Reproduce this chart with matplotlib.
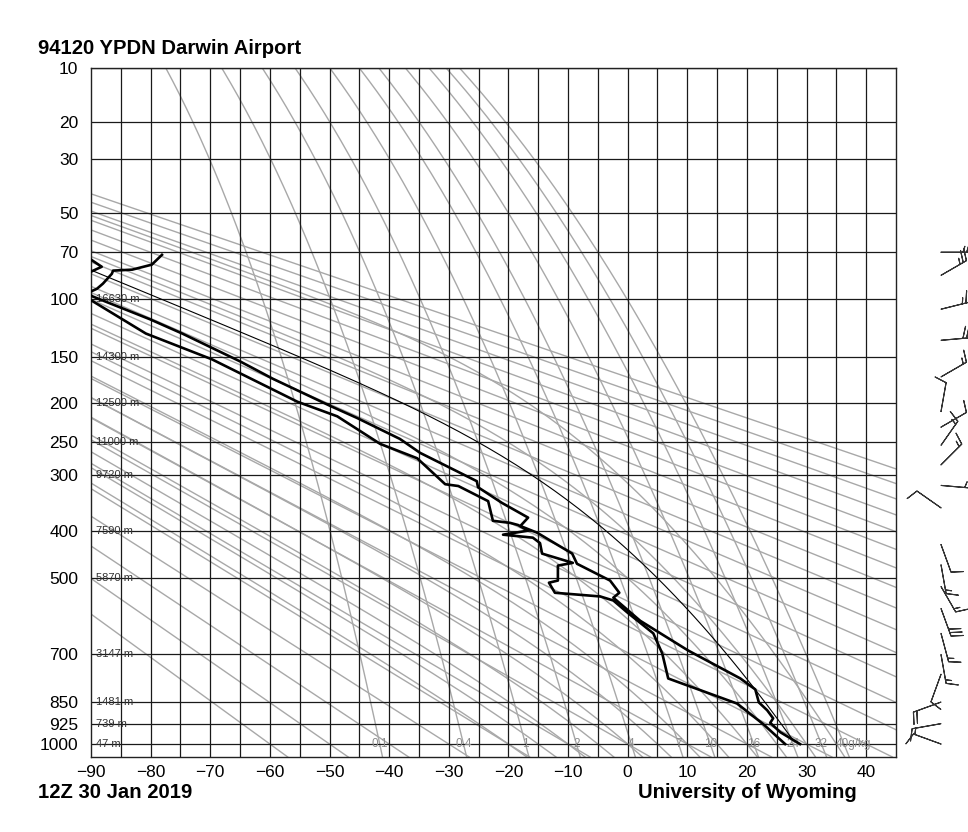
import numpy as np
import matplotlib.pyplot as plt

plt.rcParams['font.family'] = ['Liberation Sans', 'DejaVu Sans']

KAPPA = 0.286

# sounding: temperature (hPa, degC)
temp_p = [1000, 956, 922, 906, 878, 851, 808, 773, 688, 606, 547, 535, 506, 468,
          446, 403, 390, 374, 347, 320, 310, 266, 246, 218, 203, 172, 154, 128,
          116, 98.5, 96, 93, 89.5, 83, 81, 80.4, 77.3, 71.5]
temp_c = [28.9, 25.6, 23.9, 24.4, 23.4, 22.0, 21.4, 18.9, 10.1, 2.1, -2.4, -1.4, -2.95, -8.5,
          -9.3, -15.2, -18.0, -16.7, -21.1, -25.1, -25.3, -34.8, -38.2, -45.4, -49.9, -59.5, -65.0, -74.7,
          -80.1, -89.7, -90.6, -89.0, -88.0, -86.5, -86.3, -83.1, -79.8, -78.1]

# dewpoint (hPa, degC)
dew_p = [1000, 926, 855, 773, 697, 640, 585, 554, 544, 535, 511, 506, 472, 466,
         446, 424, 413, 407, 399, 388, 384, 380, 344, 318, 315, 274, 253, 216,
         198, 152, 128, 102, 95, 85, 82, 78.6, 73.8, 71.5]
dew_c = [26.4, 22.7, 18.35, 6.8, 5.8, 4.3, 0.0, -2.4, -4.6, -12.2, -13.2, -11.7, -11.7, -9.2,
         -14.35, -14.7, -15.9, -20.9, -16.7, -18.4, -19.7, -22.6, -23.4, -28.4, -30.6, -35.3, -41.5, -48.7,
         -55.4, -69.7, -80.8, -89.7, -93.0, -92.0, -90.2, -88.2, -90.2, -93.0]

# lifted parcel start (hPa, degC, dewpoint degC)
parcel_p0, parcel_t0, parcel_td0 = 1000, 28.9, 28.0

# winds (hPa, direction deg, speed kt)
wind_p = [70, 84, 108, 134, 170, 210, 230, 255, 284, 317, 356, 427, 470, 520,
          574, 640, 700, 760, 850, 925, 1000]
wind_dir = [90, 60, 76, 85, 60, 10, 60, 35, 45, 95, 305, 160, 170, 150,
            160, 165, 170, 200, 250, 260, 290]
wind_kt = [25, 25, 25, 30, 15, 10, 10, 15, 15, 5, 10, 10, 15, 15,
           30, 15, 15, 10, 20, 15, 10]

# pressure levels and standard heights
p_levels = [10, 20, 30, 50, 70, 100, 150, 200, 250, 300, 400, 500, 700, 850, 925, 1000]
height_p = [100, 150, 200, 250, 300, 400, 500, 700, 850, 925, 1000]
height_m = [16630, 14300, 12500, 11000, 9720, 7590, 5870, 3147, 1481, 739, 47]

# diagram background lines
theta_c = list(range(-60, 181, 10))          # dry adiabats, potential temp degC
theta_w = list(range(-20, 36, 5))            # moist adiabats, degC at 1000 hPa
mix_ratio = [0.1, 0.4, 1, 2, 4, 7, 10, 16, 24, 32, 40]
mix_labels = ['0.1', '0.4', '1', '2', '4', '7', '10', '16', '24', '32', '40g/kg']


def sat_vp(tc):
    return 6.112 * np.exp(17.67 * tc / (tc + 243.5))


def dtdp(p, tk):
    e = sat_vp(tk - 273.15)
    rs = 0.622 * e / (p - e)
    return (287.04 * tk + 2.501e6 * rs) / (
        p * (1005.7 + 2.501e6 ** 2 * rs * 0.622 / (287.04 * tk ** 2)))


def moist_adiabat(t0, p0, p_to):
    tk = t0 + 273.15
    p = p0
    out = []
    for pt in p_to:
        n = max(1, int(abs(pt - p) / 2) + 1)
        h = (pt - p) / n
        for _ in range(n):
            k1 = dtdp(p, tk)
            k2 = dtdp(p + h / 2, tk + h / 2 * k1)
            k3 = dtdp(p + h / 2, tk + h / 2 * k2)
            k4 = dtdp(p + h, tk + h * k3)
            tk += h / 6 * (k1 + 2 * k2 + 2 * k3 + k4)
            p += h
        out.append(tk - 273.15)
    return np.array(out)


def dewpt_from_w(w, p):
    e = w * p / (622.0 + w)
    a = np.log(e / 6.112)
    return 243.5 * a / (17.67 - a)


def pk_scale(axis):
    axis.set_yscale('function', functions=(lambda p: np.abs(p) ** KAPPA,
                                           lambda y: np.abs(y) ** (1 / KAPPA)))
    axis.set_ylim(1050, 10)


fig = plt.figure(figsize=(9.68, 8.32), dpi=100)
ax = fig.add_axes([91 / 968, 1 - 757 / 832, 805 / 968, 689 / 832])
pk_scale(ax)
ax.set_xlim(-90, 45)

gray = '#a8a8a8'
p_grid = np.geomspace(1050, 10, 300)

# dry adiabats
for th in theta_c:
    t = (th + 273.15) * (p_grid / 1000.0) ** KAPPA - 273.15
    ax.plot(t, p_grid, color=gray, lw=1.0, zorder=1)

# moist adiabats
p_up = np.geomspace(1000, 10, 200)
for tw in theta_w:
    t_up = moist_adiabat(tw, 1000, p_up)
    t_dn = moist_adiabat(tw, 1000, [1050])
    ax.plot(np.r_[t_dn, tw, t_up[1:]], np.r_[1050, 1000, p_up[1:]],
            color=gray, lw=1.0, zorder=1)

# mixing ratio lines
for w, lab in zip(mix_ratio, mix_labels):
    ax.plot(dewpt_from_w(w, p_grid), p_grid, color=gray, lw=1.0, zorder=1)
    x0 = dewpt_from_w(w, 1000.0)
    if lab.endswith('g/kg'):
        ax.text(x0 - 1.4, 1000, lab, color='#8c8c8c', fontsize=8.5,
                ha='left', va='center', zorder=3)
    else:
        ax.text(x0, 1000, lab, color='#8c8c8c', fontsize=8.5,
                ha='center', va='center', zorder=3)

# isotherms and isobars
for t in range(-85, 45, 5):
    ax.axvline(t, color='#1a1a1a', lw=0.9, zorder=2)
for p in p_levels:
    ax.axhline(p, color='#1a1a1a', lw=0.9, zorder=2)

# height labels
for p, h in zip(height_p, height_m):
    ax.text(-89.2, p, f'{h} m', fontsize=8, color='#333333',
            ha='left', va='center', zorder=4)

# parcel path
t0, td0 = parcel_t0 + 273.15, parcel_td0 + 273.15
t_lcl = 1.0 / (1.0 / (td0 - 56) + np.log(t0 / td0) / 800.0) + 56
p_lcl = parcel_p0 * (t_lcl / t0) ** (1 / KAPPA)
p_dry = np.linspace(parcel_p0, p_lcl, 10)
t_dry = t0 * (p_dry / parcel_p0) ** KAPPA - 273.15
p_moist = np.geomspace(p_lcl, 10, 200)
t_moist = moist_adiabat(t_lcl - 273.15, p_lcl, p_moist)
ax.plot(np.r_[t_dry, t_moist], np.r_[p_dry, p_moist], color='black', lw=0.8, zorder=5)

# temperature and dewpoint
ax.plot(temp_c, temp_p, color='black', lw=1.9, zorder=6)
ax.plot(dew_c, dew_p, color='black', lw=1.9, zorder=6)

ax.set_xticks(range(-90, 41, 10))
ax.set_xticklabels([f'\u2212{abs(v)}' if v < 0 else str(v) for v in range(-90, 41, 10)])
ax.set_yticks(p_levels)
ax.set_yticklabels([str(p) for p in p_levels])
ax.yaxis.set_minor_locator(plt.NullLocator())
ax.tick_params(axis='x', length=0, labelsize=12.5, pad=6)
ax.tick_params(axis='y', length=0, labelsize=12.5, pad=9)
for s in ax.spines.values():
    s.set_linewidth(1.0)
    s.set_color('#222222')

# wind barbs column
bx = fig.add_axes([930 / 968, 1 - 757 / 832, 22 / 968, 689 / 832])
pk_scale(bx)
bx.set_xlim(0, 1)
bx.axis('off')
wd = np.radians(wind_dir)
u = -np.array(wind_kt) * np.sin(wd)
v = -np.array(wind_kt) * np.cos(wd)
bx.barbs(np.full(len(wind_p), 0.5), wind_p, u, v, length=6.5, linewidth=0.8,
         color='#333333', clip_on=False, flip_barb=True)

fig.text(38 / 968, 1 - 48 / 832, '94120 YPDN Darwin Airport', fontsize=14.6,
         fontweight='bold', ha='left', va='center')
fig.text(38 / 968, 1 - 793 / 832, '12Z 30 Jan 2019', fontsize=14.6,
         fontweight='bold', ha='left', va='center')
fig.text(857 / 968, 1 - 793 / 832, 'University of Wyoming', fontsize=14.6,
         fontweight='bold', ha='right', va='center')

fig.savefig('out.png', dpi=100)
